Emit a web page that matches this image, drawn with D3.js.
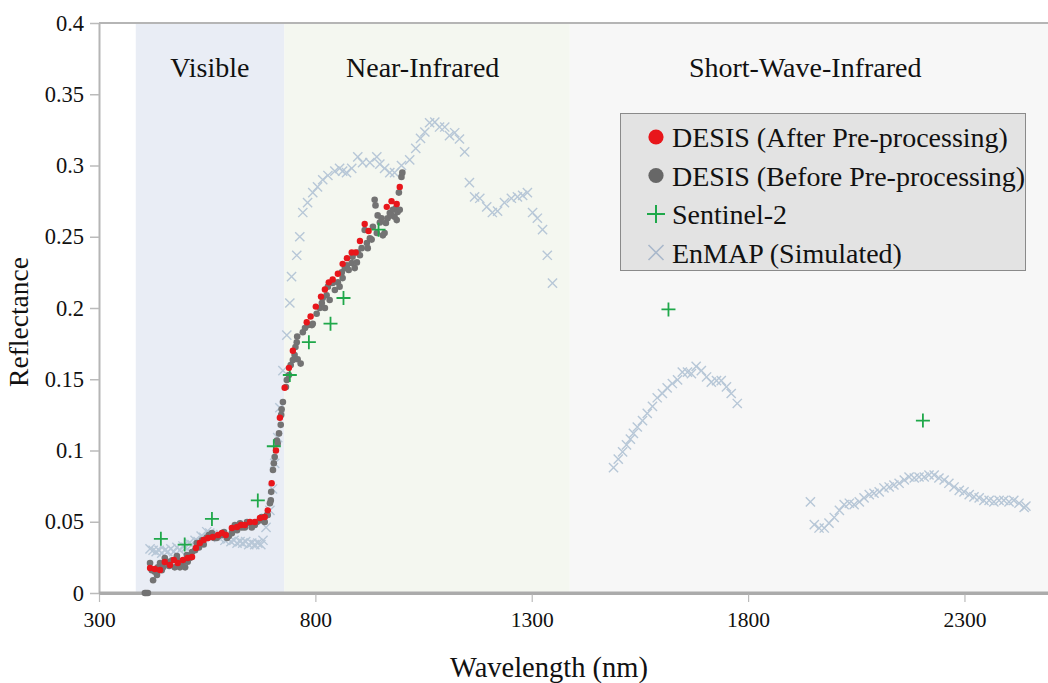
<!DOCTYPE html>
<html><head><meta charset="utf-8">
<script src="https://cdn.jsdelivr.net/npm/d3@7/dist/d3.min.js"></script>
<style>
html,body{margin:0;padding:0;background:#fff;}
svg{display:block;font-family:"Liberation Serif","Times New Roman",serif;}
</style></head><body>
<svg id="chart" width="1048" height="683"></svg>
<script>
// ---- data ----
const xTickValues = [300, 800, 1300, 1800, 2300];
const xTickLabels = ["300", "800", "1300", "1800", "2300"];
const yTickValues = [0, 0.05, 0.1, 0.15, 0.2, 0.25, 0.3, 0.35, 0.4];
const yTickLabels = ["0", "0.05", "0.1", "0.15", "0.2", "0.25", "0.3", "0.35", "0.4"];

const regionNames = ["Visible", "Near-Infrared", "Short-Wave-Infrared"];
const regionStart = [385, 728, 1388];
const regionEnd = [728, 1388, 2500];
const regionLabelWl = [556, 1048, 1932];

const seriesNames = ["DESIS (After Pre-processing)", "DESIS (Before Pre-processing)", "Sentinel-2", "EnMAP (Simulated)"];

const desisAfterWl = [418,429,441,452,464,473,482,494,505,515,524,533,542,552,563,575,584,593,607,619,628,637,649,660,672,683,690,699,709,718,729,739,748,780,789,801,813,822,831,840,852,863,873,884,893,903,914,923,965,976,988,995];
const desisAfterRefl = [0.0175,0.0168,0.0161,0.0218,0.0196,0.0232,0.0211,0.0232,0.0246,0.0253,0.0316,0.0351,0.0372,0.0386,0.0393,0.0407,0.0421,0.0407,0.0456,0.0463,0.0477,0.0477,0.0498,0.0498,0.0526,0.0533,0.058,0.077,0.100,0.123,0.144,0.158,0.170,0.190,0.194,0.201,0.208,0.213,0.218,0.220,0.224,0.231,0.235,0.239,0.239,0.247,0.259,0.254,0.271,0.275,0.273,0.285];

const desisBeforeWl = [406,409,413,418,422,425,429,434,436,441,445,448,452,457,462,469,475,480,482,487,492,499,503,505,510,515,522,526,531,538,542,549,554,561,566,572,577,584,589,596,600,607,609,614,619,626,630,637,642,649,653,660,665,672,676,683,688,690,695,697,698,702,704,706,711,713,716,720,721,722,725,732,734,739,743,748,752,754,757,758,759,766,771,776,783,792,794,803,810,815,817,822,826,829,833,840,845,852,856,861,863,868,873,877,884,886,891,896,898,903,907,914,919,921,926,930,933,937,939,942,944,949,953,956,960,963,967,972,976,979,983,986,988,990,993,995,999,1001];
const desisBeforeRefl = [0,0,0,0.021,0.016,0.009,0.015,0.0126,0.018,0.021,0.016,0.018,0.0246,0.022,0.019,0.023,0.018,0.026,0.023,0.018,0.0196,0.018,0.0267,0.022,0.0246,0.0288,0.030,0.035,0.032,0.037,0.034,0.039,0.0407,0.042,0.0386,0.0386,0.040,0.0407,0.0428,0.0386,0.040,0.042,0.044,0.0477,0.044,0.049,0.046,0.046,0.0498,0.049,0.046,0.0477,0.0498,0.051,0.0533,0.0498,0.0547,0.0547,0.063,0.065,0.071,0.0863,0.091,0.0954,0.107,0.105,0.112,0.118,0.125,0.129,0.134,0.1446,0.1495,0.153,0.160,0.1635,0.167,0.1726,0.176,0.180,0.164,0.161,0.183,0.186,0.188,0.188,0.189,0.196,0.200,0.2035,0.207,0.200,0.209,0.215,0.2056,0.2175,0.2126,0.218,0.215,0.225,0.221,0.228,0.230,0.2267,0.2316,0.236,0.228,0.232,0.239,0.237,0.242,0.2547,0.2456,0.242,0.249,0.248,0.257,0.276,0.272,0.2526,0.265,0.260,0.263,0.251,0.2526,0.2596,0.263,0.2667,0.265,0.269,0.264,0.270,0.2617,0.2674,0.281,0.269,0.292,0.295];

const sentinelWl = [443,498,561,667,704,741,785,835,865,946,1616,2204];
const sentinelRefl = [0.038,0.034,0.052,0.065,0.103,0.153,0.176,0.189,0.207,0.255,0.199,0.121];

const enmapWl = [418,425,432,439,445,452,459,466,473,480,487,494,501,508,515,522,529,536,542,549,556,563,570,577,584,591,598,605,612,619,626,632,639,646,653,660,667,674,679,686,695,701,
  706,713,718,725,734,741,745,757,764,771,782,794,805,817,829,845,856,863,872,884,898,909,926,942,949,960,972,983,999,1018,1032,1043,1053,1064,1076,1087,1099,1110,1122,1133,1145,1156,1168,1180,1196,1209,1221,1237,1253,1267,1279,1290,1302,1313,1325,1336,1348,
  1489,1500,1510,1519,1528,1535,1544,1556,1567,1579,1590,1602,1613,1625,1637,1648,1660,1669,1680,1692,1704,1715,1727,1738,1750,1761,1775,
  1944,1953,1964,1976,1987,1999,2011,2022,2034,2045,2057,2068,2080,2091,2103,2114,2126,2137,2149,2161,2172,2184,2195,2207,2218,2230,2241,2253,2264,2276,2288,2299,2311,2322,2334,2345,2357,2368,2380,2391,2403,2414,2426,2438,2442];
const enmapRefl = [0.031,0.030,0.029,0.030,0.028,0.030,0.029,0.031,0.029,0.032,0.030,0.033,0.032,0.035,0.034,0.037,0.036,0.040,0.039,0.043,0.042,0.041,0.040,0.039,0.040,0.037,0.038,0.036,0.037,0.035,0.036,0.035,0.036,0.034,0.035,0.034,0.035,0.034,0.037,0.046,0.058,0.073,
  0.091,0.109,0.130,0.156,0.181,0.2035,0.222,0.237,0.250,0.267,0.274,0.281,0.285,0.290,0.293,0.296,0.298,0.296,0.295,0.298,0.306,0.302,0.302,0.306,0.301,0.298,0.295,0.295,0.300,0.304,0.312,0.319,0.3235,0.330,0.3305,0.327,0.327,0.321,0.323,0.3186,0.3095,0.288,0.278,0.277,0.271,0.267,0.268,0.274,0.277,0.278,0.279,0.281,0.267,0.263,0.255,0.237,0.2175,
  0.088,0.094,0.099,0.104,0.108,0.112,0.1165,0.121,0.126,0.131,0.137,0.140,0.144,0.147,0.1495,0.155,0.155,0.154,0.159,0.156,0.1516,0.148,0.149,0.149,0.1446,0.140,0.133,
  0.064,0.048,0.0456,0.0456,0.049,0.053,0.058,0.062,0.063,0.062,0.064,0.0667,0.069,0.070,0.071,0.0737,0.0744,0.0758,0.077,0.0793,0.0814,0.0807,0.0814,0.0814,0.0828,0.0828,0.0807,0.0793,0.077,0.0744,0.072,0.071,0.069,0.0674,0.0667,0.065,0.065,0.064,0.065,0.065,0.064,0.065,0.063,0.060,0.061];

// ---- chart ----
const svg = d3.select("#chart");
const x = d3.scaleLinear().domain([300, 2500]).range([99, 1051]);
const y = d3.scaleLinear().domain([0, 0.4]).range([593, 23]);

const regionColors = ["#e9edf5", "#f4f7f0", "#f7f7f7"];
const zip = (a, b) => a.map((v, i) => [v, b[i]]);

// background bands
svg.append("g").selectAll("rect").data(regionNames).join("rect")
  .attr("x", (d, i) => x(regionStart[i]))
  .attr("width", (d, i) => x(regionEnd[i]) - x(regionStart[i]))
  .attr("y", y(0.4)).attr("height", y(0) - y(0.4))
  .attr("fill", (d, i) => regionColors[i]);

svg.append("g").selectAll("text").data(regionNames).join("text")
  .attr("x", (d, i) => x(regionLabelWl[i]))
  .attr("y", 77).attr("text-anchor", "middle")
  .attr("font-size", 28).attr("fill", "#111").text(d => d);

// axes
const xAxis = svg.append("g").attr("transform", `translate(0,${y(0)})`)
  .call(d3.axisBottom(x).tickValues(xTickValues).tickFormat((d, i) => xTickLabels[i]).tickSize(9).tickSizeOuter(0).tickPadding(10));
xAxis.select(".domain").attr("stroke", "#ababab").attr("stroke-width", 3);
xAxis.selectAll(".tick line").attr("stroke", "#bbb").attr("stroke-width", 1.2);
xAxis.selectAll(".tick text").attr("font-size", 21.5).attr("fill", "#111").attr("font-family", "Liberation Serif, serif");

const yAxis = svg.append("g").attr("transform", `translate(99,0)`)
  .call(d3.axisLeft(y).tickValues(yTickValues).tickFormat((d, i) => yTickLabels[i]).tickSize(9).tickSizeOuter(0).tickPadding(6));
yAxis.select(".domain").attr("stroke", "#b5b5b5").attr("stroke-width", 2);
yAxis.selectAll(".tick line").attr("stroke", "#bbb").attr("stroke-width", 1.5);
yAxis.selectAll(".tick text").attr("font-size", 22.5).attr("fill", "#111").attr("font-family", "Liberation Serif, serif");

// top border
svg.append("line").attr("x1", 99).attr("x2", 1048).attr("y1", y(0.4)).attr("y2", y(0.4))
  .attr("stroke", "#b5b5b5").attr("stroke-width", 2);
// bottom axis line above bands
svg.append("line").attr("x1", 99).attr("x2", 1048).attr("y1", y(0)).attr("y2", y(0))
  .attr("stroke", "#ababab").attr("stroke-width", 3);

// axis titles
svg.append("text").attr("x", 549).attr("y", 677).attr("text-anchor", "middle")
  .attr("font-size", 28.5).attr("fill", "#111").text("Wavelength (nm)");
svg.append("text").attr("transform", "translate(28,322) rotate(-90)").attr("text-anchor", "middle")
  .attr("font-size", 27.5).attr("fill", "#111").text("Reflectance");

const colAfter = "#e8161b", colBefore = "#737373", colS2 = "#1fa84a", colEn = "#b7c7d7";
const crossPath = s => `M${-s},${-s}L${s},${s}M${-s},${s}L${s},${-s}`;
const plusPath = s => `M${-s},0H${s}M0,${-s}V${s}`;

// EnMAP
svg.append("g").selectAll("path").data(zip(enmapWl, enmapRefl)).join("path")
  .attr("transform", d => `translate(${x(d[0])},${y(d[1])})`)
  .attr("d", crossPath(4.6)).attr("stroke", colEn).attr("stroke-width", 1.4).attr("fill", "none");

// DESIS before
svg.append("g").selectAll("circle").data(zip(desisBeforeWl, desisBeforeRefl)).join("circle")
  .attr("cx", d => x(d[0])).attr("cy", d => y(d[1])).attr("r", 3.3).attr("fill", colBefore);

// Sentinel-2
svg.append("g").selectAll("path").data(zip(sentinelWl, sentinelRefl)).join("path")
  .attr("transform", d => `translate(${x(d[0])},${y(d[1])})`)
  .attr("d", plusPath(7)).attr("stroke", colS2).attr("stroke-width", 1.8).attr("fill", "none");

// DESIS after
svg.append("g").selectAll("circle").data(zip(desisAfterWl, desisAfterRefl)).join("circle")
  .attr("cx", d => x(d[0])).attr("cy", d => y(d[1])).attr("r", 3.2).attr("fill", colAfter);

// legend
const lg = svg.append("g");
lg.append("rect").attr("x", 620.5).attr("y", 113.5).attr("width", 405).attr("height", 157)
  .attr("fill", "#e3e3e3").attr("stroke", "#8a8a8a").attr("stroke-width", 1);
const rows = lg.selectAll("g").data(seriesNames).join("g")
  .attr("transform", (d, i) => `translate(656,${137 + i * 38.5})`);
rows.append("text").attr("x", 16).attr("y", 10).attr("font-size", 28).attr("fill", "#111").text(d => d);
rows.filter((d, i) => i === 0).append("circle").attr("r", 7.6).attr("fill", colAfter);
rows.filter((d, i) => i === 1).append("circle").attr("r", 7.6).attr("fill", "#676767");
rows.filter((d, i) => i === 2).append("path").attr("d", plusPath(9)).attr("stroke", colS2).attr("stroke-width", 2).attr("fill", "none");
rows.filter((d, i) => i === 3).append("path").attr("d", crossPath(7.5)).attr("stroke", "#a9b8cb").attr("stroke-width", 1.6).attr("fill", "none");
</script>
</body></html>
